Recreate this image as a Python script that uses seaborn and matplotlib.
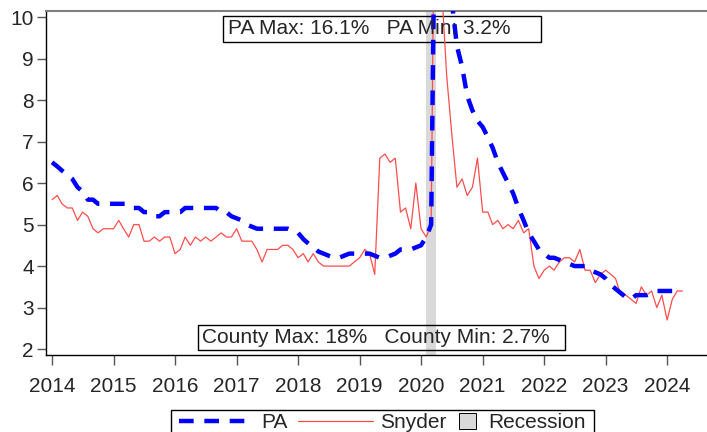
import numpy as np
import pandas as pd
import matplotlib
matplotlib.use("Agg")
import matplotlib.pyplot as plt
import matplotlib.dates as mdates
from matplotlib.patches import Patch, Rectangle
from matplotlib.lines import Line2D
import seaborn as sns

# monthly unemployment rate, Jan 2014 - Apr 2024
months = pd.date_range("2014-01-01", "2024-04-01", freq="MS")

snyder = [5.6, 5.7, 5.5, 5.4, 5.4, 5.1, 5.3, 5.2, 4.9, 4.8, 4.9, 4.9,
          4.9, 5.1, 4.9, 4.7, 5.0, 5.0, 4.6, 4.6, 4.7, 4.6, 4.7, 4.7,
          4.3, 4.4, 4.7, 4.5, 4.7, 4.6, 4.7, 4.6, 4.7, 4.8, 4.7, 4.7,
          4.9, 4.6, 4.6, 4.6, 4.4, 4.1, 4.4, 4.4, 4.4, 4.5, 4.5, 4.4,
          4.2, 4.3, 4.1, 4.3, 4.1, 4.0, 4.0, 4.0, 4.0, 4.0, 4.0, 4.1,
          4.2, 4.4, 4.3, 3.8, 6.6, 6.7, 6.5, 6.6, 5.3, 5.4, 4.9, 6.0,
          4.9, 4.7, 5.0, 18.0, 10.8, 8.6, 7.2, 5.9, 6.1, 5.7, 5.9, 6.6,
          5.3, 5.3, 5.0, 5.1, 4.9, 5.0, 4.9, 5.1, 4.8, 4.9, 4.0, 3.7,
          3.9, 4.0, 3.9, 4.1, 4.2, 4.2, 4.1, 4.4, 3.9, 3.9, 3.6, 3.8,
          3.9, 3.8, 3.7, 3.3, 3.3, 3.2, 3.1, 3.5, 3.3, 3.4, 3.0, 3.3,
          2.7, 3.2, 3.4, 3.4]

pa = [6.5, 6.4, 6.3, 6.2, 6.1, 5.9, 5.8, 5.6, 5.6, 5.5, 5.5, 5.5,
      5.5, 5.5, 5.5, 5.5, 5.4, 5.4, 5.3, 5.3, 5.2, 5.2, 5.3, 5.3,
      5.3, 5.3, 5.4, 5.4, 5.4, 5.4, 5.4, 5.4, 5.4, 5.3, 5.3, 5.2,
      5.15, 5.1, 5.0, 4.95, 4.9, 4.9, 4.9, 4.9, 4.9, 4.9, 4.9, 4.85,
      4.8, 4.65, 4.55, 4.45, 4.35, 4.3, 4.25, 4.2, 4.2, 4.25, 4.3, 4.3,
      4.3, 4.3, 4.3, 4.25, 4.2, 4.2, 4.25, 4.3, 4.4, 4.4, 4.4, 4.45,
      4.5, 4.7, 5.0, 16.1, 13.5, 12.0, 10.4, 9.3, 8.8, 8.1, 7.75, 7.5,
      7.35, 7.1, 6.85, 6.5, 6.25, 6.0, 5.75, 5.4, 5.1, 4.8, 4.6, 4.4,
      4.3, 4.2, 4.2, 4.15, 4.1, 4.05, 4.0, 4.0, 4.0, 3.9, 3.85, 3.8,
      3.7, 3.55, 3.45, 3.35, 3.25, 3.2, 3.3, 3.3, 3.3, 3.35, 3.4, 3.4,
      3.4, 3.4, 3.4, 3.4]

recession_start = "2020-02-01"
recession_end = "2020-04-01"
years = list(range(2014, 2025))
pa_note = "PA Max: 16.1%   PA Min: 3.2%"
county_note = "County Max: 18%   County Min: 2.7%"

df = pd.DataFrame({"date": months, "PA": pa, "Snyder": snyder})

sns.set_style("ticks")
plt.rcParams["font.family"] = ["Liberation Sans", "DejaVu Sans"]
FS = 15
BLUE = "#0000ff"
RED = "#ff4d4d"
GRAY = "#d9d9d9"

fig = plt.figure(figsize=(7.07, 4.32), dpi=100)
ax = fig.add_axes([0.0646, 0.178, 0.9354, 0.7965])

ax.axvspan(pd.Timestamp(recession_start), pd.Timestamp(recession_end),
           color=GRAY, lw=0, zorder=0.5)

sns.lineplot(data=df, x="date", y="Snyder", ax=ax, color=RED, lw=0.9, zorder=2)
sns.lineplot(data=df, x="date", y="PA", ax=ax, color=BLUE, lw=3.2, zorder=3)
ax.lines[-1].set_dashes((3.3, 2.4))

ax.set_ylim(1.855, 10.145)
ax.set_xlim(pd.Timestamp("2013-11-24"), pd.Timestamp("2024-08-25"))
ax.set_xticks([pd.Timestamp(f"{y}-01-01") for y in years])
ax.xaxis.set_major_formatter(mdates.DateFormatter("%Y"))
ax.set_yticks(range(2, 11))
ax.set_xlabel("")
ax.set_ylabel("")

ax.spines["right"].set_visible(False)
ax.spines["top"].set_color("#7f7f7f")
ax.spines["top"].set_linewidth(1.5)
for s in ["left", "bottom"]:
    ax.spines[s].set_color("black")
    ax.spines[s].set_linewidth(1.0)
ax.tick_params(axis="x", length=7.5, width=1, color="#555555", pad=8, labelsize=FS)
ax.tick_params(axis="y", length=6.5, width=1, color="#555555", pad=2, labelsize=FS)

# annotation boxes (transparent, lines show through)
ax.add_patch(Rectangle((0.2681, 0.9099), 0.749 - 0.2681, 0.9855 - 0.9099,
                       transform=ax.transAxes, fill=False, ec="black", lw=1, zorder=1))
ax.text(0.2757, 0.948, pa_note, transform=ax.transAxes,
        ha="left", va="center", fontsize=FS, zorder=4)
ax.add_patch(Rectangle((0.2303, 0.0145), 0.7852 - 0.2303, 0.0872 - 0.0145,
                       transform=ax.transAxes, fill=False, ec="black", lw=1, zorder=1))
ax.text(0.237, 0.051, county_note, transform=ax.transAxes,
        ha="left", va="center", fontsize=FS, zorder=4)

# legend at bottom, partly cut by the figure edge
W, H = fig.get_size_inches() * fig.dpi
frame_top = 1 - 410 / H
top = 1 - 407 / H
line_handles = [Line2D([], [], color=BLUE, lw=3.2, dashes=(3.3, 2.4)),
                Line2D([], [], color=RED, lw=0.9)]
leg1 = fig.legend(line_handles, ["PA", "Snyder"], loc="upper left",
                  bbox_to_anchor=(0, top), ncol=2, fontsize=FS, frameon=False,
                  handlelength=3.6, handletextpad=0.35, columnspacing=0.5,
                  borderpad=0.3, borderaxespad=0)
fig.canvas.draw()
bb1 = leg1.get_window_extent()
leg2 = fig.legend([Patch(facecolor=GRAY, edgecolor="black", lw=0.7)], ["Recession"],
                  loc="upper left", bbox_to_anchor=(bb1.x1 / W, top), fontsize=FS,
                  frameon=False, handlelength=0.8, handleheight=0.8,
                  handletextpad=0.6, borderpad=0.3, borderaxespad=0)
fig.canvas.draw()
bb2 = leg2.get_window_extent()
total = bb2.x1 - bb1.x0
shift = 382.5 - total / 2
leg1.set_bbox_to_anchor((shift / W, top), transform=fig.transFigure)
leg2.set_bbox_to_anchor(((shift + bb1.width) / W, top), transform=fig.transFigure)
fig.add_artist(Rectangle((shift / W - 0.002, frame_top - 40 / H), (total + 3) / W, 40 / H,
                         transform=fig.transFigure, fill=False, ec="black", lw=1))

fig.savefig("out.png", dpi=100)
